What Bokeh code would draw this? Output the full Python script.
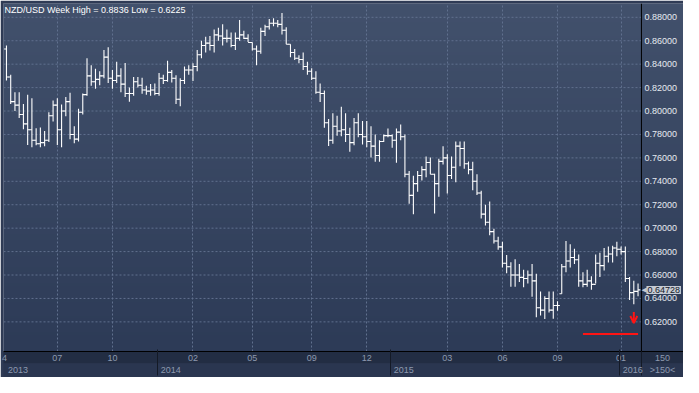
import numpy as np
from bokeh.plotting import figure
from bokeh.models import (ColumnDataSource, FixedTicker, PrintfTickFormatter, LinearAxis,
                          Label, Arrow, OpenHead, Range1d, Span)
from bokeh.embed import file_html
from bokeh.resources import INLINE

title_text = "NZD/USD Week High = 0.8836 Low = 0.6225"

opens = [0.853, 0.829, 0.808, 0.805, 0.797, 0.789, 0.784, 0.775, 0.772, 0.773,
         0.775, 0.796, 0.805, 0.784, 0.800, 0.808, 0.780, 0.776, 0.799, 0.814,
         0.830, 0.825, 0.827, 0.830, 0.846, 0.828, 0.826, 0.830, 0.823, 0.815,
         0.815, 0.825, 0.822, 0.818, 0.817, 0.818, 0.815, 0.828, 0.826, 0.833,
         0.828, 0.810, 0.826, 0.835, 0.835, 0.838, 0.848, 0.856, 0.858, 0.856,
         0.865, 0.864, 0.862, 0.862, 0.856, 0.862, 0.865, 0.862, 0.8585, 0.853,
         0.851, 0.868, 0.872, 0.875, 0.875, 0.874, 0.869, 0.857, 0.850, 0.845,
         0.844, 0.838, 0.834, 0.828, 0.816, 0.815, 0.790, 0.775, 0.787, 0.783,
         0.784, 0.780, 0.773, 0.790, 0.780, 0.778, 0.774, 0.770, 0.762, 0.774,
         0.779, 0.779, 0.775, 0.782, 0.778, 0.746, 0.728, 0.738, 0.745, 0.750,
         0.756, 0.746, 0.738, 0.757, 0.760, 0.745, 0.752, 0.770, 0.768, 0.755,
         0.750, 0.740, 0.730, 0.712, 0.705, 0.697, 0.689, 0.684, 0.670, 0.667,
         0.660, 0.660, 0.658, 0.657, 0.660, 0.655, 0.632, 0.630, 0.640, 0.630,
         0.634, 0.644, 0.667, 0.672, 0.675, 0.673, 0.655, 0.652, 0.655, 0.652,
         0.670, 0.668, 0.676, 0.678, 0.683, 0.682, 0.680, 0.657, 0.645, 0.646]

highs = [0.856, 0.831, 0.816, 0.816, 0.806, 0.814, 0.811, 0.7853, 0.786, 0.783,
         0.799, 0.809, 0.811, 0.8056, 0.812, 0.8155, 0.787, 0.802, 0.815, 0.845,
         0.839, 0.836, 0.834, 0.852, 0.8545, 0.835, 0.842, 0.8366, 0.841, 0.820,
         0.829, 0.829, 0.8284, 0.8216, 0.823, 0.8235, 0.8325, 0.831, 0.843, 0.835,
         0.8306, 0.828, 0.838, 0.839, 0.8408, 0.852, 0.860, 0.8635, 0.864, 0.8695,
         0.871, 0.874, 0.8695, 0.867, 0.867, 0.8778, 0.8685, 0.8655, 0.8586, 0.856,
         0.871, 0.8737, 0.8786, 0.8792, 0.8778, 0.8836, 0.8715, 0.857, 0.853, 0.8476,
         0.850, 0.842, 0.8366, 0.834, 0.8235, 0.8175, 0.7933, 0.798, 0.796, 0.8037,
         0.798, 0.7858, 0.794, 0.798, 0.7914, 0.7914, 0.787, 0.780, 0.775, 0.780,
         0.785, 0.780, 0.785, 0.7886, 0.780, 0.7488, 0.7447, 0.7488, 0.7529, 0.7611,
         0.7603, 0.7465, 0.7593, 0.770, 0.7631, 0.7611, 0.774, 0.774, 0.774, 0.757,
         0.7566, 0.746, 0.7319, 0.720, 0.7228, 0.6994, 0.6926, 0.6885, 0.677, 0.671,
         0.6734, 0.6693, 0.6644, 0.6638, 0.6693, 0.6611, 0.646, 0.6418, 0.646, 0.646,
         0.6377, 0.6693, 0.689, 0.6863, 0.6825, 0.6776, 0.6624, 0.6644, 0.6589, 0.6775,
         0.679, 0.683, 0.6844, 0.685, 0.6885, 0.6844, 0.6844, 0.6583, 0.655, 0.6527]

lows = [0.826, 0.806, 0.800, 0.794, 0.7845, 0.771, 0.769, 0.7708, 0.769, 0.770,
        0.7735, 0.791, 0.771, 0.769, 0.7955, 0.776, 0.7725, 0.774, 0.797, 0.813,
        0.8215, 0.819, 0.822, 0.828, 0.824, 0.819, 0.824, 0.816, 0.812, 0.808,
        0.813, 0.820, 0.8147, 0.814, 0.813, 0.8135, 0.813, 0.823, 0.825, 0.8243,
        0.806, 0.804, 0.823, 0.831, 0.8257, 0.834, 0.845, 0.850, 0.8517, 0.850,
        0.860, 0.856, 0.8586, 0.8545, 0.852, 0.860, 0.8615, 0.859, 0.8517, 0.839,
        0.849, 0.864, 0.8695, 0.8723, 0.8715, 0.8654, 0.857, 0.846, 0.8435, 0.8408,
        0.835, 0.831, 0.8265, 0.8147, 0.8078, 0.7858, 0.7702, 0.772, 0.779, 0.7784,
        0.7735, 0.7653, 0.7708, 0.7776, 0.7714, 0.769, 0.7604, 0.7566, 0.7566, 0.7735,
        0.7776, 0.7686, 0.7558, 0.775, 0.7434, 0.7208, 0.7118, 0.731, 0.7406, 0.7434,
        0.746, 0.7126, 0.7269, 0.7543, 0.7296, 0.742, 0.7393, 0.7529, 0.7507, 0.746,
        0.7324, 0.7283, 0.7083, 0.7022, 0.694, 0.687, 0.6816, 0.6665, 0.6616, 0.650,
        0.650, 0.6541, 0.6495, 0.6527, 0.6415, 0.624, 0.6254, 0.6225, 0.628, 0.6226,
        0.6295, 0.644, 0.6624, 0.6665, 0.6693, 0.650, 0.6495, 0.650, 0.6474, 0.6527,
        0.6583, 0.6638, 0.6707, 0.6707, 0.6761, 0.6775, 0.6541, 0.6386, 0.635, 0.6418]

closes = [0.829, 0.808, 0.805, 0.797, 0.789, 0.784, 0.775, 0.772, 0.773, 0.775,
          0.796, 0.805, 0.784, 0.800, 0.808, 0.780, 0.776, 0.799, 0.814, 0.830,
          0.825, 0.827, 0.830, 0.846, 0.828, 0.826, 0.830, 0.823, 0.815, 0.815,
          0.825, 0.822, 0.818, 0.817, 0.818, 0.815, 0.828, 0.826, 0.833, 0.828,
          0.810, 0.826, 0.835, 0.835, 0.838, 0.848, 0.856, 0.858, 0.856, 0.865,
          0.864, 0.862, 0.862, 0.856, 0.862, 0.865, 0.862, 0.8585, 0.853, 0.851,
          0.868, 0.872, 0.875, 0.875, 0.874, 0.869, 0.857, 0.850, 0.845, 0.844,
          0.838, 0.834, 0.828, 0.816, 0.815, 0.790, 0.775, 0.787, 0.783, 0.784,
          0.780, 0.773, 0.790, 0.780, 0.778, 0.774, 0.770, 0.762, 0.774, 0.779,
          0.779, 0.775, 0.782, 0.778, 0.746, 0.728, 0.738, 0.745, 0.750, 0.756,
          0.746, 0.738, 0.757, 0.760, 0.745, 0.752, 0.770, 0.768, 0.755, 0.750,
          0.740, 0.730, 0.712, 0.705, 0.697, 0.689, 0.684, 0.670, 0.667, 0.660,
          0.660, 0.658, 0.657, 0.660, 0.655, 0.632, 0.630, 0.640, 0.630, 0.634,
          0.634, 0.667, 0.672, 0.675, 0.673, 0.655, 0.652, 0.655, 0.652, 0.670,
          0.668, 0.676, 0.678, 0.683, 0.682, 0.680, 0.657, 0.645, 0.646, 0.64728]

bar_index = list(range(len(closes)))

month_ticks = [12, 25, 44, 58, 72, 85, 104, 117, 130, 145]
month_labels = ["07", "10", "02", "05", "09", "12", "03", "06", "09", "01"]
first_month_label = "4"
year_starts = [0, 36, 91, 145]
year_labels = ["2013", "2014", "2015", "2016"]
price_ticks = [0.62, 0.64, 0.66, 0.68, 0.70, 0.72, 0.74, 0.76, 0.78, 0.80,
               0.82, 0.84, 0.86, 0.88]
last_price = 0.64728
bar_count = "150"
bar_count_sub = ">150<"
stop_level = 0.6097
stop_from, stop_to = 136, 149
arrow_bar, arrow_top, arrow_bottom = 148, 0.6285, 0.6190

# ---- layout (pixels) ----
W, H = 683, 377
FRAME_PX = 679          # frame width (left border 3, tiny axis panel on right)
PANEL_PX = 42           # price-scale strip at the right, inside the frame
DATA_PX = FRAME_PX - PANEL_PX
X0, X1 = -0.7, 149.8    # data area in bar-index units
PPU = DATA_PX / (X1 - X0)
XE = X0 + FRAME_PX / PPU
Y0, Y1 = 0.5947, 0.8918
FONT = "Liberation Sans"
LABEL_W = 32            # approx width of "0.88000" at 9px
YEAR_HALF_W = 10        # half width of a year label at 9px

p = figure(width=W, height=H, output_backend="svg", toolbar_location=None,
           x_range=Range1d(X0, XE), y_range=Range1d(Y0, Y1),
           y_axis_location="right",
           min_border_left=3, min_border_top=3, min_border_right=0, min_border_bottom=0)
p.border_fill_color = "#2f3b55"
p.background_fill_color = "#394762"
p.outline_line_color = None

# gradient background over the whole frame
n = 128
top = np.array([66, 81, 108], dtype=float)
bot = np.array([45, 59, 87], dtype=float)
t = np.linspace(0, 1, n)[:, None]
cols = bot + (top - bot) * t
img = np.empty((n, 1), dtype=np.uint32)
view = img.view(dtype=np.uint8).reshape((n, 1, 4))
view[:, 0, 0:3] = cols.astype(np.uint8)
view[:, 0, 3] = 255
p.image_rgba(image=[img], x=X0, y=Y0, dw=XE - X0, dh=Y1 - Y0, level="image")

# grids
GRID = "#60708e"
p.xgrid.ticker = FixedTicker(ticks=month_ticks)
p.xgrid.grid_line_color = GRID
p.xgrid.grid_line_dash = "2 2"
p.ygrid.grid_line_color = None
p.segment(x0=X0, x1=X1, y0=price_ticks, y1=price_ticks, line_color=GRID,
          line_dash="2 2", line_width=1, level="underlay")

# black separator between chart and price scale
p.add_layout(Span(location=X1, dimension="height", line_color="black", line_width=1))

# month axis
corner_center = X1 + (PANEL_PX / 2) / PPU
xa = p.xaxis[0]
m_ticks = [X0 + 0.25] + month_ticks + [corner_center]
m_labels = [first_month_label] + month_labels + [bar_count]
xa.ticker = FixedTicker(ticks=m_ticks)
xa.major_label_overrides = {t_: l for t_, l in zip(m_ticks, m_labels)}
xa.major_tick_line_color = None
xa.major_tick_out = 0
xa.major_tick_in = 0
xa.minor_tick_line_color = None
xa.axis_line_color = "black"
xa.major_label_text_font = FONT
xa.major_label_text_font_size = "9px"
xa.major_label_text_color = "#8d99af"
xa.major_label_standoff = 3
xa.background_fill_color = "#222d43"

# year axis (second row)
seps = [s - 0.45 for s in year_starts]
y_ticks = [s + (3.5 + YEAR_HALF_W) / PPU for s in seps] + [corner_center]
y_texts = year_labels + [bar_count_sub]
yr = LinearAxis(ticker=FixedTicker(ticks=y_ticks, minor_ticks=seps[1:] + [X1]))
yr.major_label_overrides = {t_: l for t_, l in zip(y_ticks, y_texts)}
yr.axis_line_color = None
yr.major_tick_line_color = None
yr.major_tick_out = 12
yr.major_tick_in = 0
yr.minor_tick_line_color = "#141a26"
yr.minor_tick_out = 12
yr.minor_tick_in = 14
yr.major_label_text_font = FONT
yr.major_label_text_font_size = "9px"
yr.major_label_text_color = "#8d99af"
yr.major_label_standoff = -11
yr.background_fill_color = "#2a3650"
p.add_layout(yr, "below")

# price axis, drawn inside the right strip of the frame
ra = p.yaxis[0]
ra.fixed_location = X1 + (LABEL_W + 3) / PPU
ra.ticker = FixedTicker(ticks=price_ticks)
ra.formatter = PrintfTickFormatter(format="%.5f")
ra.major_tick_line_color = None
ra.minor_tick_line_color = None
ra.major_tick_out = 0
ra.major_tick_in = 0
ra.axis_line_color = None
ra.major_label_text_font = FONT
ra.major_label_text_font_size = "9px"
ra.major_label_text_color = "#e6eaf0"
ra.major_label_standoff = -LABEL_W

# OHLC bars
src = ColumnDataSource(dict(
    x=bar_index, o=opens, h=highs, l=lows, c=closes,
    xl=[i - 0.55 for i in bar_index], xr=[i + 0.55 for i in bar_index]))
p.segment(x0="x", y0="l", x1="x", y1="h", source=src, line_color="white", line_width=1.1)
p.segment(x0="xl", y0="o", x1="x", y1="o", source=src, line_color="white", line_width=1.1)
p.segment(x0="x", y0="c", x1="xr", y1="c", source=src, line_color="white", line_width=1.1)

# red signal line and arrow
RED = "#ff1414"
p.segment(x0=stop_from, y0=stop_level, x1=stop_to, y1=stop_level, line_color=RED, line_width=2)
p.add_layout(Arrow(end=OpenHead(size=7, line_color=RED, line_width=2),
                   x_start=arrow_bar, y_start=arrow_top, x_end=arrow_bar, y_end=arrow_bottom,
                   line_color=RED, line_width=2))

# title
p.add_layout(Label(x=X0, y=Y1, x_offset=1, y_offset=-1, text=title_text,
                   text_baseline="top", text_align="left", text_font=FONT,
                   text_font_size="9px", text_color="#ffffff"))

# last price tag
p.add_layout(Label(x=X1, y=last_price, x_offset=0, text="\u25c0", text_baseline="middle",
                   text_align="left", text_font="DejaVu Sans", text_font_size="7px",
                   text_color="#c5cad3"))
p.add_layout(Label(x=X1, y=last_price, x_offset=5, text="%.5f" % last_price,
                   text_baseline="middle", text_align="left", text_font=FONT,
                   text_font_size="9px", text_color="#141828",
                   background_fill_color="#c5cad3", padding=1))

open("out.html", "w").write(file_html(p, INLINE))
